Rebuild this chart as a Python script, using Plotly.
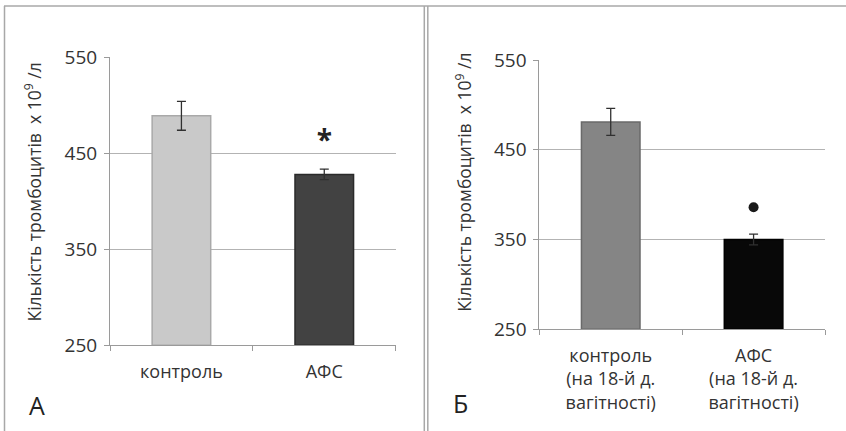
import plotly.graph_objects as go

# Panel A: whole-pregnancy comparison
groups_a = ["контроль", "АФС"]
means_a = [489, 428]
errors_a = [15, 5.5]
asterisk_y_a = 461

# Panel B: day 18 of pregnancy
groups_b = ["контроль<br>(на 18-й д.<br>вагітності)", "АФС<br>(на 18-й д.<br>вагітності)"]
means_b = [481, 350]
errors_b = [15, 6]
dot_y_b = 386

y_ticks = [250, 350, 450, 550]

colors_a = ["#c9c9c9", "#424242"]
edges_a = ["#a9a9a9", "#2a2a2a"]
colors_b = ["#858585", "#080808"]
edges_b = ["#6a6a6a", "#000000"]

FONT = "Open Sans"
TXT = "#333333"
W, H = 846, 431

fig = go.Figure()

fig.add_trace(go.Bar(
    x=groups_a, y=[m - 250 for m in means_a], base=250,
    width=0.41,
    marker=dict(color=colors_a, line=dict(color=edges_a, width=1.5)),
    error_y=dict(type="data", array=errors_a, color="#303030", thickness=1.3, width=4.5),
    xaxis="x", yaxis="y", showlegend=False, hoverinfo="skip",
))
fig.add_trace(go.Scatter(
    x=[groups_a[1]], y=[asterisk_y_a], mode="text", text=["<b>*</b>"],
    textfont=dict(family=FONT, size=28, color="#222222"),
    textposition="middle center",
    xaxis="x", yaxis="y", showlegend=False, hoverinfo="skip",
))

fig.add_trace(go.Bar(
    x=groups_b, y=[m - 250 for m in means_b], base=250,
    width=0.41,
    marker=dict(color=colors_b, line=dict(color=edges_b, width=1.5)),
    error_y=dict(type="data", array=errors_b, color="#303030", thickness=1.3, width=4.5),
    xaxis="x2", yaxis="y2", showlegend=False, hoverinfo="skip",
))
fig.add_trace(go.Scatter(
    x=[groups_b[1]], y=[dot_y_b], mode="markers",
    marker=dict(symbol="circle", size=10, color="#1a1a1a"),
    xaxis="x2", yaxis="y2", showlegend=False, hoverinfo="skip",
))

axis_x = dict(
    type="category", tickson="boundaries", ticks="outside", ticklen=5,
    tickcolor="#9a9a9a", showline=True, linecolor="#9a9a9a", linewidth=1,
    showgrid=False, tickfont=dict(family=FONT, size=18, color=TXT),
    ticklabelstandoff=10, automargin=False, fixedrange=True,
)
axis_y = dict(
    range=[250, 550], tickvals=y_ticks, ticks="outside", ticklen=5,
    tickcolor="#9a9a9a", showline=True, linecolor="#9a9a9a", linewidth=1,
    showgrid=True, gridcolor="#b3b3b3", gridwidth=1, zeroline=False,
    tickfont=dict(family=FONT, size=19, color=TXT), ticklabelstandoff=3,
    automargin=False, fixedrange=True,
)

fig.update_layout(
    template="none",
    width=W, height=H, autosize=False,
    margin=dict(l=0, r=0, t=0, b=0, pad=0, autoexpand=False),
    paper_bgcolor="white", plot_bgcolor="white",
    xaxis=dict(axis_x, domain=[110 / W, 395.7 / W], anchor="y"),
    yaxis=dict(axis_y, domain=[1 - 345.3 / H, 1 - 57.3 / H], anchor="x"),
    xaxis2=dict(axis_x, domain=[539.3 / W, 825 / W], anchor="y2"),
    yaxis2=dict(axis_y, domain=[1 - 329.3 / H, 1 - 60 / H], anchor="x2"),
)

ytitle = "Кількість тромбоцитів  х 10<sup>9</sup> /л"
for xp, yp in [(33, 192.5), (463.3, 182.5)]:
    fig.add_annotation(
        text=ytitle, textangle=-90, xref="paper", yref="paper",
        x=xp / W, y=1 - yp / H, xanchor="center", yanchor="middle",
        showarrow=False, font=dict(family=FONT, size=17.5, color=TXT),
    )

for label, xp, yp in [("А", 37, 405), ("Б", 460, 403)]:
    fig.add_annotation(
        text=label, xref="paper", yref="paper",
        x=xp / W, y=1 - yp / H, xanchor="center", yanchor="middle",
        showarrow=False, font=dict(family=FONT, size=25, color="#222222"),
    )

# frame lines around the two panels
frame = dict(type="line", xref="paper", yref="paper", line=dict(color="#a8a8a8", width=1.5))
fig.add_shape(frame, x0=4 / W, x1=1, y0=1 - 6 / H, y1=1 - 6 / H)
fig.add_shape(frame, x0=4.5 / W, x1=4.5 / W, y0=0, y1=1 - 6 / H)
fig.add_shape(frame, x0=424.3 / W, x1=424.3 / W, y0=0, y1=1 - 6 / H)
fig.add_shape(frame, x0=427.8 / W, x1=427.8 / W, y0=0, y1=1 - 6 / H)

fig.write_html("out.html", config={"displayModeBar": False})
